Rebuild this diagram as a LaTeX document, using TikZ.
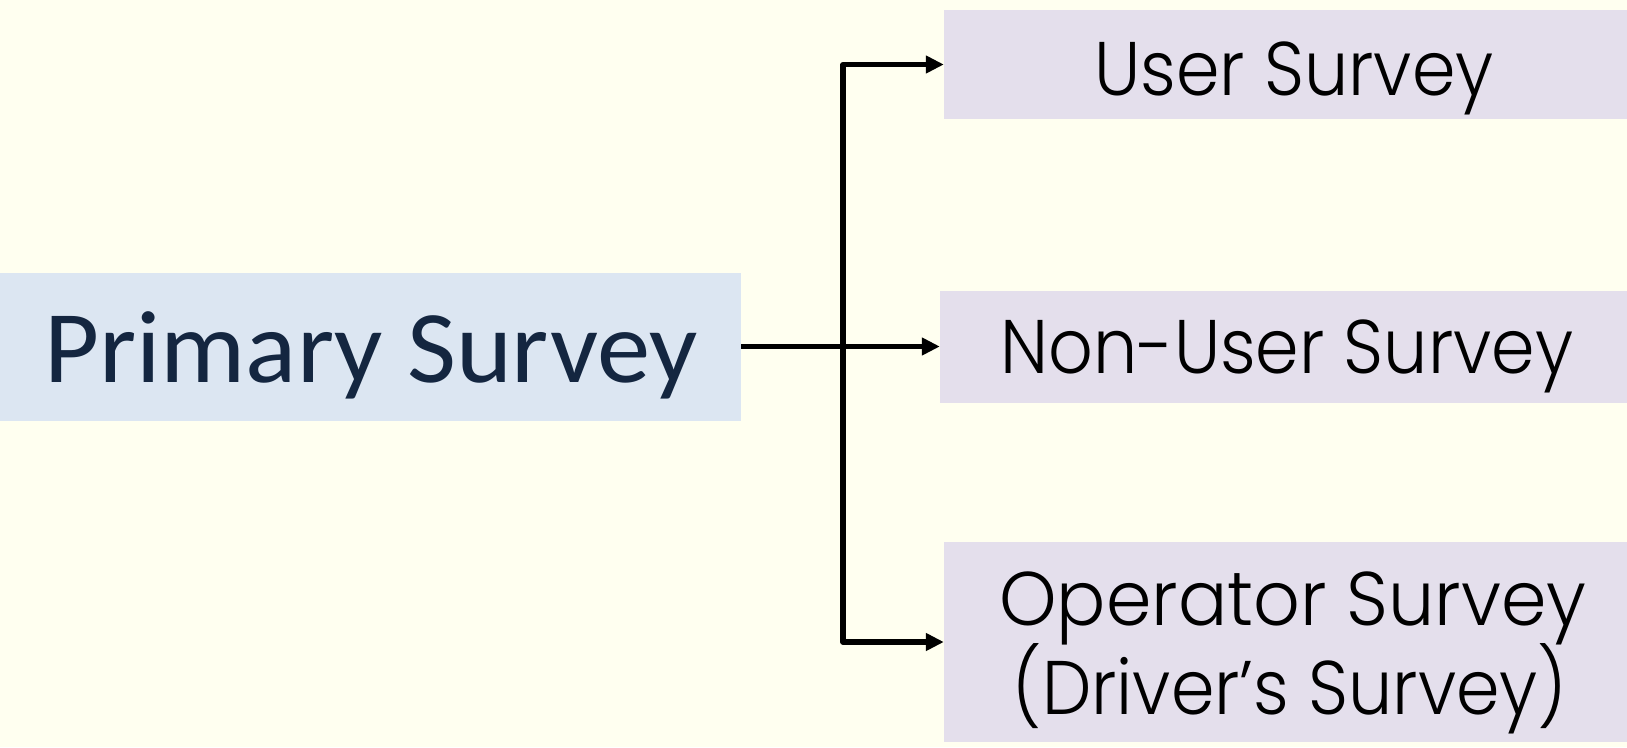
\documentclass[tikz,border=0pt]{standalone}
\usepackage{fontspec}
\setmainfont{Carlito}
\newfontfamily\gothic{Poppins Light}
\usetikzlibrary{arrows.meta}
\definecolor{bgcol}{HTML}{FFFFF0}
\definecolor{primfill}{HTML}{DCE6F2}
\definecolor{subfill}{HTML}{E4DFEC}
\definecolor{navy}{HTML}{142640}
\tikzset{
  primbox/.style={fill=primfill, draw=none, inner sep=0pt},
  subbox/.style={fill=subfill, draw=none, inner sep=0pt},
  primtext/.style={anchor=base, inner sep=0pt, text=navy, xscale=1.035,
    font=\fontsize{103}{110}\selectfont},
  subtext/.style={anchor=base, inner sep=0pt, text=black, xscale=0.92,
    font=\gothic\fontsize{76}{86}\selectfont},
  conn/.style={line width=5.3pt, line join=round,
    -{Triangle[length=18pt,width=17pt]}},
}
\begin{document}
\begin{tikzpicture}[x=1pt,y=-1pt]
\fill[bgcol] (0,0) rectangle (1627,747);
\clip (0,0) rectangle (1627,747);
\node[primbox, minimum width=741pt, minimum height=148pt] (prim) at (370.5,346.5) {};
\node[subbox, minimum width=700pt, minimum height=109pt] (user) at (1294,64.5) {};
\node[subbox, minimum width=694pt, minimum height=112pt] (nonuser) at (1287,346.5) {};
\node[subbox, minimum width=698pt, minimum height=200pt] (oper) at (1293,642) {};
\node[primtext] (primt) at (371,382) {Primary Survey};
\node[subtext] (usert) at (1294,95) {User Survey};
\node[subtext] (nonusert) at (1287,373.5) {Non-User Survey};
\node[subtext, xscale=1.045] (opert1) at (1293,625.5) {Operator Survey};
\node[subtext] (opert2) at (1290,714) {(Driver’s Survey)};
\coordinate (jt) at (843,64.5);
\coordinate (jb) at (843,642);
\draw[conn, -] (jt) -- (jb);
\draw[conn] (jb) -- (jt) -- (user.west);
\draw[conn] (jt) -- (jb) -- (oper.west);
\draw[conn] (prim.east) -- (nonuser.west);
\end{tikzpicture}
\end{document}
